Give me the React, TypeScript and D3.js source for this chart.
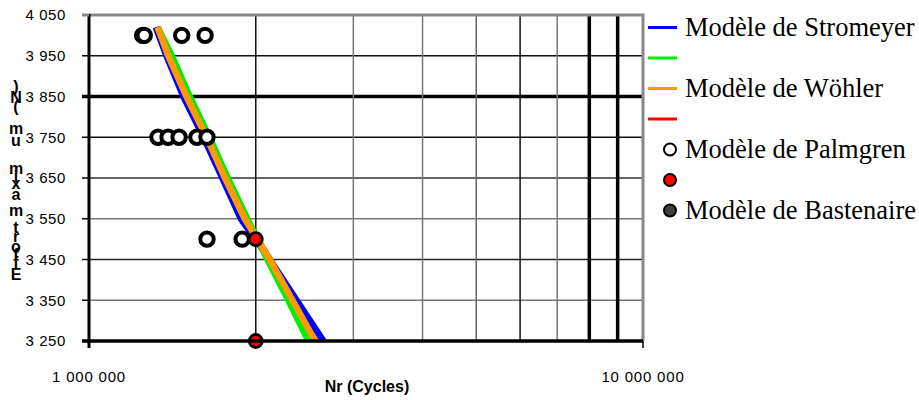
import React from "react";
import * as d3 from "d3";

// ---- data ----
const stressLevels = [4020, 3950, 3850, 3750, 3650, 3550, 3450, 3350, 3250];
const stromeyerN = [1.32e6, 1.38e6, 1.48e6, 1.61e6, 1.74e6, 1.88e6, 2.12e6, 2.37e6, 2.65e6];
const greenN = [1.33e6, 1.41e6, 1.52e6, 1.65e6, 1.78e6, 1.93e6, 2.1e6, 2.29e6, 2.49e6];
const wohlerN = [1.33e6, 1.39e6, 1.5e6, 1.63e6, 1.76e6, 1.91e6, 2.12e6, 2.33e6, 2.56e6];
const redN = [1.33e6, 1.39e6, 1.5e6, 1.63e6, 1.76e6, 1.91e6, 2.12e6, 2.33e6, 2.56e6];

const palmgrenN = [1.25e6, 1.258e6, 1.47e6, 1.62e6, 1.332e6, 1.389e6, 1.454e6, 1.566e6, 1.633e6, 1.633e6, 1.89e6];
const palmgrenS = [4000, 4000, 4000, 4000, 3750, 3750, 3750, 3750, 3750, 3500, 3500];
const redPointsN = [2.0e6, 2.0e6];
const redPointsS = [3500, 3250];

const yTicks = [3250, 3350, 3450, 3550, 3650, 3750, 3850, 3950, 4050];
const yTickLabels = ["3 250", "3 350", "3 450", "3 550", "3 650", "3 750", "3 850", "3 950", "4 050"];
const xGrid = [2e6, 3e6, 4e6, 5e6, 6e6, 7e6, 8e6, 9e6];
const xTicks = [1e6, 1e7];
const xTickLabels = ["1 000 000", "10 000 000"];
const xTitle = "Nr (Cycles)";
const yTitle = "Effort maximum (N)";
const legendLabels = ["Modèle de Stromeyer", "", "Modèle de Wöhler", "", "Modèle de Palmgren", "", "Modèle de Bastenaire"];

// ---- styles ----
const hGridStyle: Record<number, [string, number]> = {
  3950: ["#111", 1.5],
  3850: ["#000", 3.5],
  3750: ["#111", 1.5],
  3650: ["#333", 1.5],
  3550: ["#777", 1.5],
  3450: ["#222", 1.5],
  3350: ["#777", 1.5],
};
const vGridStyle: [string, number][] = [
  ["#111", 1.5],
  ["#777", 1.5],
  ["#777", 1.5],
  ["#666", 1.5],
  ["#111", 1.5],
  ["#777", 1.5],
  ["#000", 3.5],
  ["#000", 3.5],
];
// vertical placement of the stacked (garbled) y-title letters
const titleCharY = [86, 97, 106, 117, 128, 140, 168, 176, 183, 194, 210, 219, 227, 236, 246, 254, 262, 274];

export default function App() {
  const W = 919, H = 400;
  const L = 89, R = 643, T = 15, B = 341;
  const x = d3.scaleLog().domain([1e6, 1e7]).range([L, R]);
  const y = d3.scaleLinear().domain([3250, 4050]).range([B, T]);

  const line = d3
    .line<[number, number]>()
    .x((d) => x(d[0]))
    .y((d) => y(d[1]));
  const mk = (ns: number[]) => line(ns.map((n, i) => [n, stressLevels[i]] as [number, number])) || "";

  const series = [
    { ns: redN, color: "#ff0000" },
    { ns: stromeyerN, color: "#0000ff" },
    { ns: greenN, color: "#00ee00" },
    { ns: wohlerN, color: "#ff9900" },
  ];

  const legendColors = ["#0000ff", "#00ee00", "#ff9900", "#ff0000"];
  const legY = (i: number) => 27.5 + i * 30.5;

  const titleChars = yTitle.split("").reverse();
  const sans = "'Liberation Sans', Arial, sans-serif";

  return (
    <svg width={W} height={H} style={{ position: "absolute", left: 0, top: 0, background: "#fff" }}>
      <rect x={0} y={0} width={W} height={H} fill="#fff" />
      {/* horizontal grid */}
      {yTicks
        .filter((v) => hGridStyle[v])
        .map((v) => (
          <line key={"h" + v} x1={L} x2={R} y1={y(v)} y2={y(v)} stroke={hGridStyle[v][0]} strokeWidth={hGridStyle[v][1]} />
        ))}
      {/* vertical grid */}
      {xGrid.map((v, i) => (
        <line key={"v" + v} x1={x(v)} x2={x(v)} y1={T} y2={B} stroke={vGridStyle[i][0]} strokeWidth={vGridStyle[i][1]} />
      ))}
      {/* border top / right */}
      <line x1={L} x2={R + 1.5} y1={T} y2={T} stroke="#888" strokeWidth={3} />
      <line x1={R} x2={R} y1={T} y2={B} stroke="#888" strokeWidth={3} />

      {/* series lines */}
      {series.map((s, i) => (
        <path key={"s" + i} d={mk(s.ns)} fill="none" stroke={s.color} strokeWidth={6.5} />
      ))}

      {/* palmgren markers */}
      {palmgrenN.map((n, i) => (
        <circle key={"p" + i} cx={x(n)} cy={y(palmgrenS[i])} r={6.7} fill="#fff" stroke="#000" strokeWidth={4} />
      ))}
      {redPointsN.map((n, i) => (
        <circle key={"r" + i} cx={x(n)} cy={y(redPointsS[i])} r={6.5} fill="#ff0000" stroke="#000" strokeWidth={2.8} />
      ))}

      {/* axes */}
      <line x1={L} x2={L} y1={T - 1} y2={B + 1.5} stroke="#000" strokeWidth={3} />
      <line x1={L - 1.5} x2={R} y1={B} y2={B} stroke="#000" strokeWidth={3.5} />
      {yTicks.map((v) => (
        <line
          key={"yt" + v}
          x1={L - 7}
          x2={L}
          y1={y(v)}
          y2={y(v)}
          stroke={v === 4050 ? "#888" : "#000"}
          strokeWidth={v === 3850 || v === 3250 ? 3.5 : v === 4050 ? 3 : 1.5}
        />
      ))}
      {xTicks.map((v) => (
        <line key={"xt" + v} x1={x(v)} x2={x(v)} y1={B} y2={B + 7} stroke="#000" strokeWidth={v === 1e6 ? 3 : 1.5} />
      ))}

      {/* y tick labels */}
      {yTicks.map((v, i) => (
        <text
          key={"yl" + v}
          x={66}
          y={y(v)}
          dy="0.36em"
          textAnchor="end"
          fontFamily={sans}
          fontSize={15}
          letterSpacing={0.6}
          fill="#000"
        >
          {yTickLabels[i]}
        </text>
      ))}
      {/* x tick labels */}
      {xTicks.map((v, i) => (
        <text
          key={"xl" + v}
          x={x(v)}
          y={382}
          textAnchor="middle"
          fontFamily={sans}
          fontSize={15}
          letterSpacing={0.8}
          fill="#000"
        >
          {xTickLabels[i]}
        </text>
      ))}
      {/* x title */}
      <text x={367} y={392} textAnchor="middle" fontFamily={sans} fontSize={16} fontWeight="bold" fill="#000">
        {xTitle}
      </text>
      {/* y title (stacked letters) */}
      {titleChars.map((c, i) => (
        <text
          key={"ytt" + i}
          x={16}
          y={titleCharY[i]}
          dy="0.36em"
          textAnchor="middle"
          fontFamily={sans}
          fontSize={16}
          fontWeight="bold"
          fill="#000"
        >
          {c}
        </text>
      ))}

      {/* legend */}
      {legendLabels.map((lab, i) => {
        const ly = legY(i);
        let sym: React.ReactNode = null;
        if (i < 4) {
          sym = <line x1={648} x2={677} y1={ly} y2={ly} stroke={legendColors[i]} strokeWidth={3} />;
        } else {
          const fill = i === 4 ? "#fff" : i === 5 ? "#ff0000" : "#404040";
          sym = <circle cx={670} cy={ly} r={6} fill={fill} stroke="#000" strokeWidth={2} />;
        }
        return (
          <g key={"lg" + i}>
            {sym}
            {lab && (
              <text x={685} y={ly + 8.5} fontFamily="'Liberation Serif', 'Times New Roman', serif" fontSize={26.5} fill="#000">
                {lab}
              </text>
            )}
          </g>
        );
      })}
    </svg>
  );
}
